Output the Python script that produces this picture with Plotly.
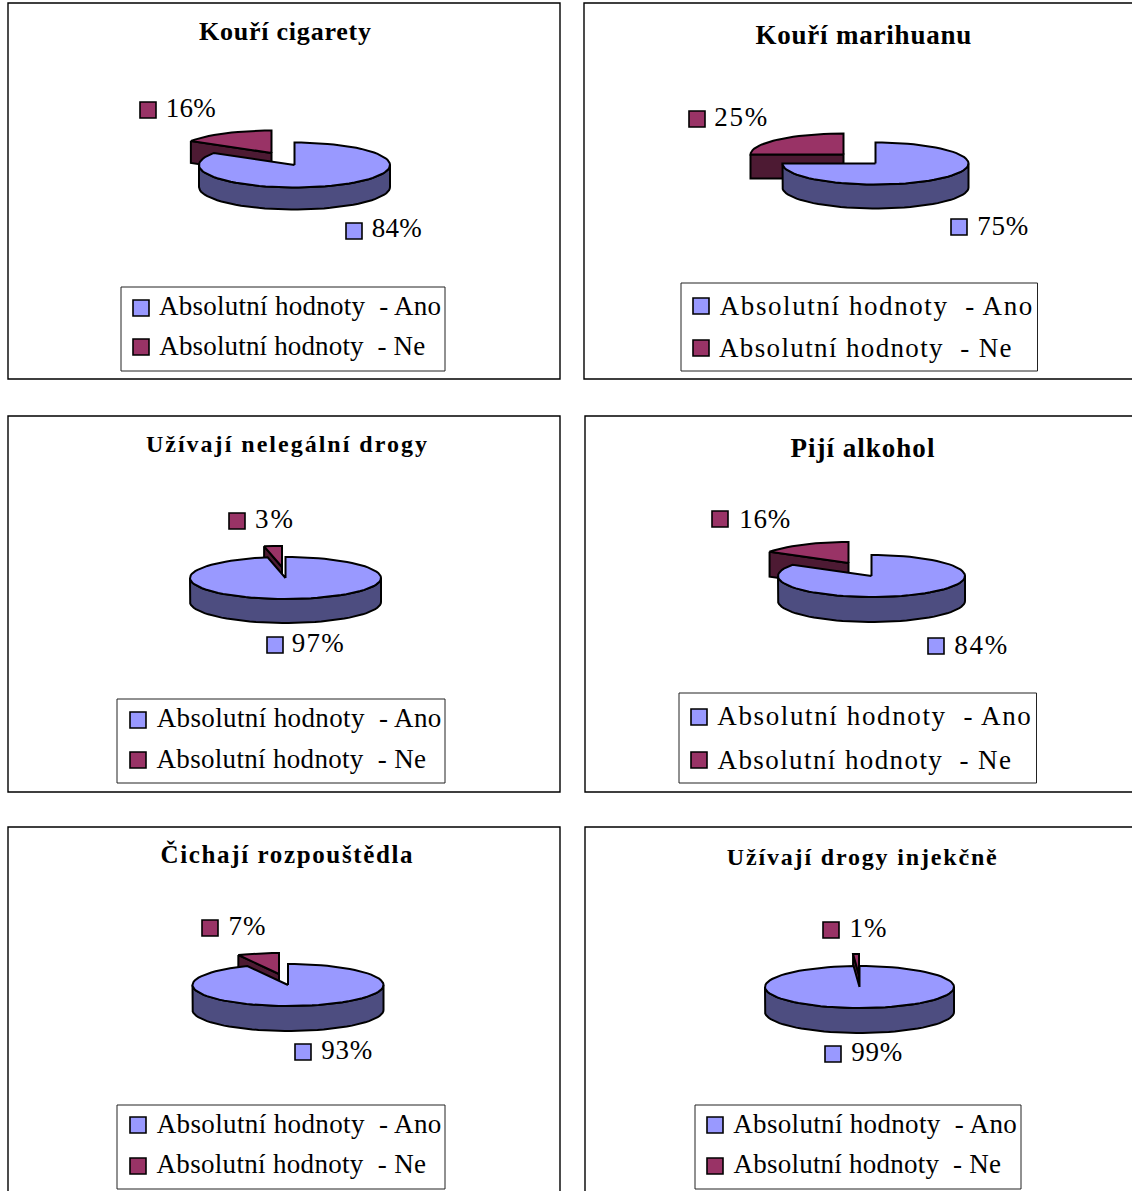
import math, json
import plotly.graph_objects as go

titles = ["Kouří cigarety", "Kouří marihuanu", "Užívají nelegální drogy",
          "Pijí alkohol", "Čichají rozpouštědla", "Užívají drogy injekčně"]
ano_values = [84, 75, 97, 84, 93, 99]
ne_values = [16, 25, 3, 16, 7, 1]
legend_labels = ["Absolutní hodnoty  - Ano", "Absolutní hodnoty  - Ne"]

FONT = "Liberation Serif"
ANO, ANO_SIDE = "#9999FF", "#4D4D80"
NE, NE_SIDE = "#993366", "#4D1A33"

# layout of every panel, in page pixels
PANELS = [(8, 560, 3, 379), (584, 1145, 3, 379), (8, 560, 416, 792),
          (585, 1145, 416, 792), (8, 560, 827, 1200), (585, 1145, 827, 1200)]
# cx, cy, rx, ry, depth, ne dx, ne dy
PIES = [(294.5, 165, 95.5, 22.5, 22, -23, -12), (875.5, 163.5, 93, 21, 24, -32, -9),
        (285.5, 578, 95.5, 21, 24, -3.5, -11), (871.5, 576, 93.5, 21, 25, -23, -13),
        (288, 985, 95.5, 21, 25, -9, -11), (859.5, 987, 94.5, 21, 25, -0.5, -12)]
TITLE_POS = [(199, 371, 31, 26), (755, 971, 35, 27), (146, 427, 444, 24),
             (790, 934, 448, 27), (161, 413, 854, 25), (727, 997, 857, 24)]
LEG_BOX = [(121, 445, 287, 371), (681, 1037.5, 283, 371), (117, 445, 699, 783),
           (679, 1036.5, 693, 783), (117, 445, 1105, 1189), (695, 1021, 1105, 1189)]
# swatch x, swatch y ano, swatch y ne, text x0, x1 ano, x1 ne, text y ano, text y ne, size
LEG_ROWS = [(141, 308, 347, 159, 441, 425, 305.5, 345.5, 27),
            (701, 306, 348, 719.5, 1032, 1012, 305.5, 347.5, 27),
            (138, 720, 760, 156.5, 441, 426, 717.5, 758.5, 27),
            (699, 717, 760, 717.5, 1031, 1011, 715.5, 759.5, 27),
            (138, 1125, 1166, 156.5, 441, 426, 1123.5, 1163.5, 27),
            (715, 1125, 1166, 733.5, 1017, 1001, 1123.5, 1163.5, 27)]
# ne: swatch x, y, text x0, x1, y ; ano: same
PCT_POS = [((148, 110, 166, 216, 108), (354, 231, 372, 422, 228)),
           ((697, 119, 714, 767, 117), (959, 227, 977, 1028, 226)),
           ((237, 521, 255, 293, 519), (275, 645, 292, 344, 643)),
           ((720, 519, 739, 790, 519), (936, 646, 954, 1007, 645)),
           ((210, 928, 228, 265, 926), (303, 1052, 321, 372, 1050)),
           ((831, 930, 849, 886, 928), (833, 1054, 851, 902, 1052))]

fig = go.Figure()
shapes, annos, widths = [], [], []


def pt(cx, cy, rx, ry, deg, drop=0):
    a = math.radians(deg)
    return cx + rx * math.sin(a), cy - ry * math.cos(a) + drop


def arc(cx, cy, rx, ry, d0, d1, drop=0, step=4):
    n = max(1, int(abs(d1 - d0) / step))
    return [pt(cx, cy, rx, ry, d0 + (d1 - d0) * i / n, drop) for i in range(n + 1)]


def poly(points, fill):
    xs = [p[0] for p in points] + [points[0][0]]
    ys = [p[1] for p in points] + [points[0][1]]
    fig.add_trace(go.Scatter(x=xs, y=ys, mode="lines", fill="toself", fillcolor=fill,
                             line=dict(color="black", width=2), hoverinfo="skip"))


def label(text, x0, x1, y, size, bold=False):
    annos.append(dict(x=(x0 + x1) / 2, y=y, xref="x", yref="y", text=text, showarrow=False,
                      xanchor="center", yanchor="middle",
                      font=dict(family=FONT, size=size, color="black",
                                weight="bold" if bold else "normal")))
    widths.append(x1 - x0)


def swatch(xs, ys, colors, size):
    fig.add_trace(go.Scatter(x=xs, y=ys, mode="markers", hoverinfo="skip",
                             marker=dict(symbol="square", size=size, color=colors,
                                         line=dict(color="black", width=1.6))))


for i, title in enumerate(titles):
    x0, x1, y0, y1 = PANELS[i]
    shapes.append(dict(type="rect", xref="x", yref="y", x0=x0, x1=x1, y0=y0, y1=y1,
                       line=dict(color="black", width=1.4), fillcolor="white", layer="below"))
    a, b, c, d = LEG_BOX[i]
    shapes.append(dict(type="rect", xref="x", yref="y", x0=a, x1=b, y0=c, y1=d,
                       line=dict(color="#222222", width=1), fillcolor="white", layer="below"))

    total = ano_values[i] + ne_values[i]
    split = 360 * ano_values[i] / total
    cx, cy, rx, ry, depth, ndx, ndy = PIES[i]

    # exploded "Ne" slice: inner cut face, then top
    nx, ny = cx + ndx, cy + ndy
    left = pt(nx, ny, rx, ry, split)
    poly([left, (nx, ny), (nx, ny + depth), (left[0], left[1] + depth)], NE_SIDE)
    poly([(nx, ny)] + arc(nx, ny, rx, ry, split, 360), NE)

    # "Ano" slice: front rim, then top
    end = min(split, 270)
    poly(arc(cx, cy, rx, ry, 90, end) + arc(cx, cy, rx, ry, end, 90, depth), ANO_SIDE)
    poly([(cx, cy)] + arc(cx, cy, rx, ry, 0, split), ANO)

    # texts
    tx0, tx1, ty, ts = TITLE_POS[i]
    label(title, tx0, tx1, ty, ts, True)
    ne_p, ano_p = PCT_POS[i]
    label(f"{ne_values[i]}%", ne_p[2], ne_p[3], ne_p[4], 27)
    label(f"{ano_values[i]}%", ano_p[2], ano_p[3], ano_p[4], 27)
    swatch([ne_p[0], ano_p[0]], [ne_p[1], ano_p[1]], [NE, ANO], 16)
    sx, sya, syn, lx0, lxa, lxn, lya, lyn, ls = LEG_ROWS[i]
    label(legend_labels[0], lx0, lxa, lya, ls)
    label(legend_labels[1], lx0, lxn, lyn, ls)
    swatch([sx, sx], [sya, syn], [ANO, NE], 16)

fig.update_layout(
    width=1132, height=1191, margin=dict(l=0, r=0, t=0, b=0), showlegend=False,
    paper_bgcolor="white", plot_bgcolor="white", shapes=shapes, annotations=annos,
    xaxis=dict(range=[0, 1132], visible=False, fixedrange=True),
    yaxis=dict(range=[1191, 0], visible=False, fixedrange=True),
)
post = ("document.body.style.margin='0';var w=" + json.dumps(widths) + ";"
        "document.querySelectorAll('.annotation-text').forEach(function(t,i){"
        "t.setAttribute('textLength',w[i]);t.setAttribute('lengthAdjust','spacing');});")
fig.write_html("out.html", post_script=post, config=dict(displayModeBar=False))
